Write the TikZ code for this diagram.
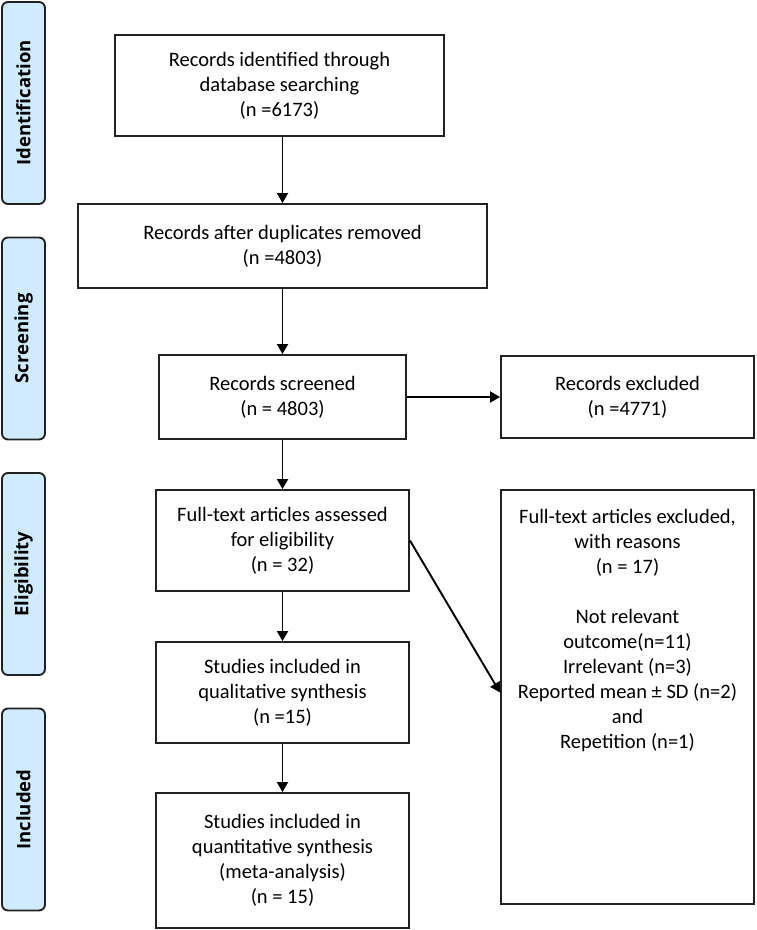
\documentclass[tikz,border=0pt]{standalone}
\usepackage{fontspec}
\setmainfont{Carlito}
\newfontfamily\labfont{Open Sans}
\usetikzlibrary{arrows.meta}
\definecolor{sidefill}{RGB}{207,235,253}
\definecolor{lineclr}{RGB}{34,34,34}
\begin{document}
\begin{tikzpicture}[x=1pt,y=-1pt,
  box/.style={draw=lineclr, line width=1.9pt, fill=white, inner sep=0pt, align=center,
    font=\fontsize{20.5}{25}\selectfont, text=black},
  txt/.style={inner sep=0pt, align=center, font=\fontsize{20.5}{25}\selectfont, text=black},
  side/.style={draw=lineclr, line width=1.9pt, fill=sidefill, rounded corners=6pt, rotate=90,
    minimum width=202pt, minimum height=43pt, inner sep=0pt,
    font=\labfont\bfseries\fontsize{18.5}{22}\selectfont, text=black},
  arr/.style={draw=black, line width=1.9pt, -{Triangle[length=10pt,width=11pt]}}]
\useasboundingbox (0,0) rectangle (756,930);
% side labels
\node[side] (sid1) at (23.5,103) {Identification};
\node[side] (sid2) at (23.5,338.5) {Screening};
\node[side] (sid3) at (23.5,574) {Eligibility};
\node[side] (sid4) at (23.5,809.5) {Included};
% main boxes
\node[box, minimum width=329pt, minimum height=101pt] (b1) at (279.5,85.5)
  {Records identified through\\database searching\\(n =6173)};
\node[box, minimum width=409pt, minimum height=84pt] (b2) at (282.5,246)
  {Records after duplicates removed\\(n =4803)};
\node[box, minimum width=247pt, minimum height=84pt] (b3) at (282.5,397)
  {Records screened\\(n = 4803)};
\node[box, minimum width=253pt, minimum height=82pt] (e1) at (627.5,397)
  {Records excluded\\(n =4771)};
\node[box, minimum width=253pt, minimum height=101pt] (b4) at (282.5,540.5)
  {Full-text articles assessed\\for eligibility\\(n = 32)};
\node[box, minimum width=253pt, minimum height=101pt] (b5) at (282.5,692.5)
  {Studies included in\\qualitative synthesis\\(n =15)};
\node[box, minimum width=253pt, minimum height=135pt] (b6) at (282.5,860.5)
  {Studies included in\\quantitative synthesis\\(meta-analysis)\\(n = 15)};
\node[box, minimum width=253pt, minimum height=414pt] (e2) at (627.5,697) {};
\node[txt, anchor=north] (e2t) at (627.5,509)
  {Full-text articles excluded,\\with reasons\\(n = 17)\\[25pt]Not relevant\\outcome(n=11)\\Irrelevant (n=3)\\Reported mean ± SD (n=2)\\and\\Repetition (n=1)};
% connectors
\draw[arr] (b1.south -| b2.north) -- (b2.north);
\draw[arr] (b2) -- (b3);
\draw[arr] (b3) -- (e1);
\draw[arr] (b3) -- (b4);
\draw[arr] (b4) -- (b5);
\draw[arr] (b5) -- (b6);
\draw[arr] (b4.east) -- (b5 -| e2.west);
\end{tikzpicture}
\end{document}
